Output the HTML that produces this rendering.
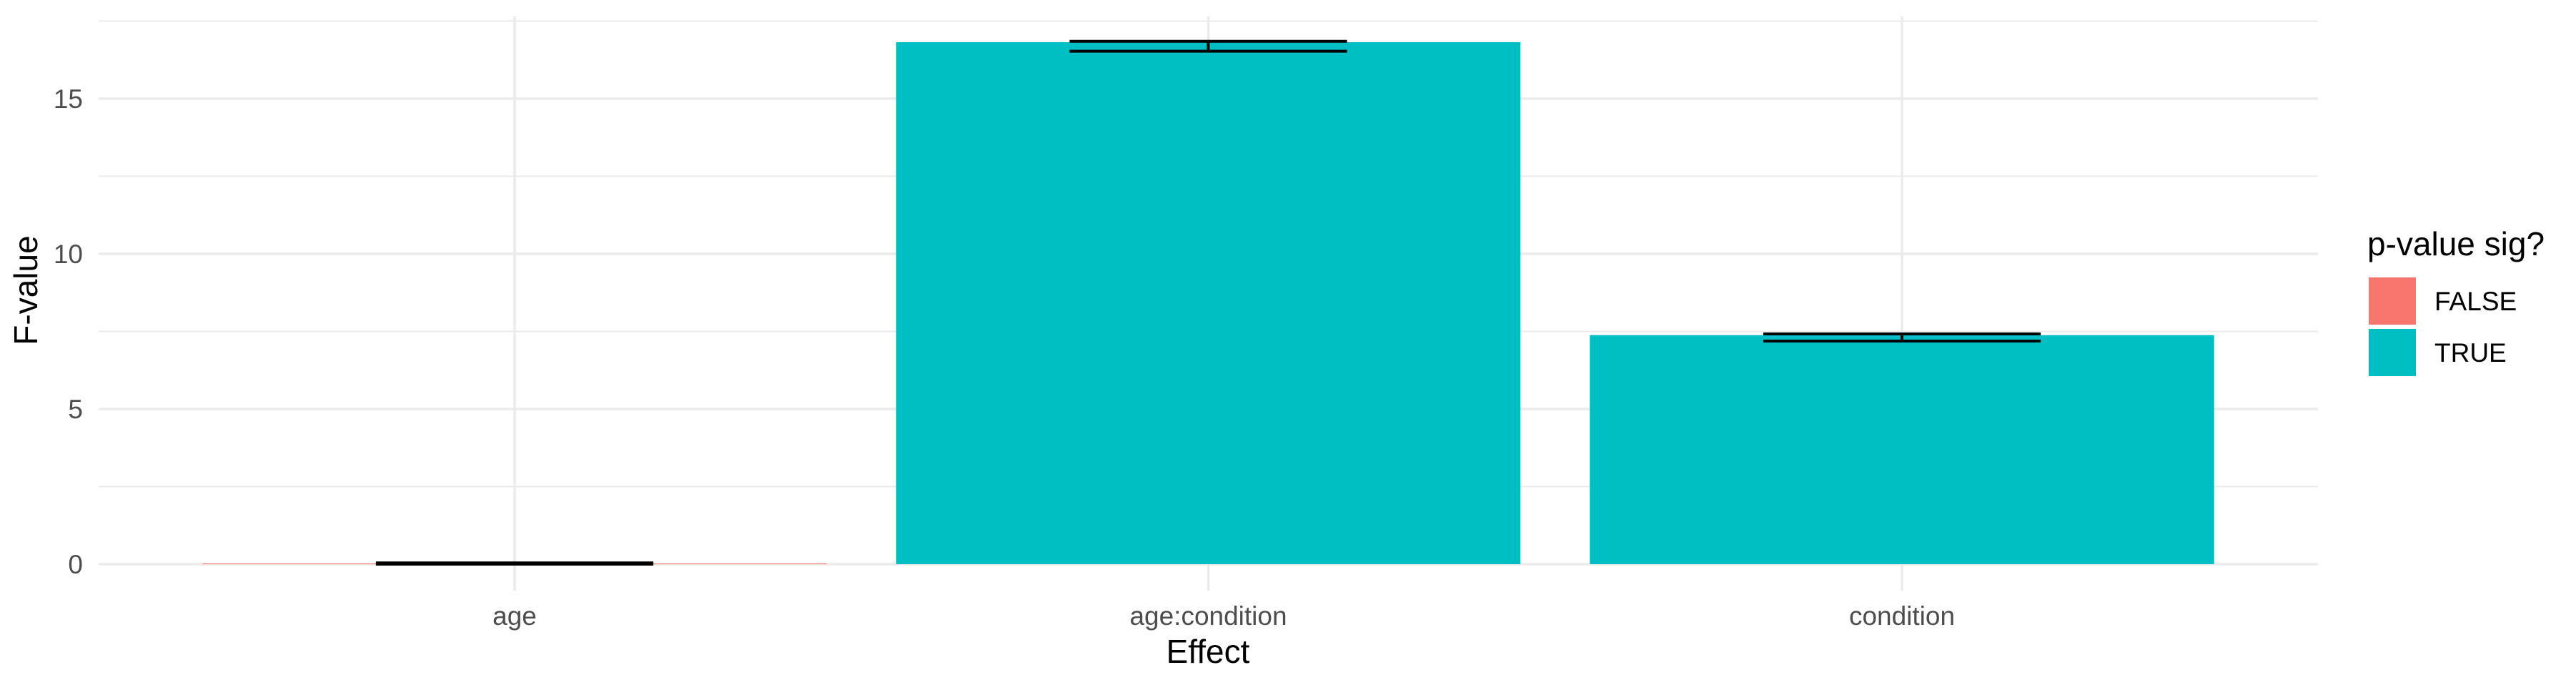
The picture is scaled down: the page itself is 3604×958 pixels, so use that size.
<!DOCTYPE html>
<html><head><meta charset="utf-8"><style>
html,body{margin:0;padding:0;background:#fff;}
svg{display:block;font-family:"Liberation Sans",sans-serif;}
</style></head><body>
<svg id="chart" width="3604" height="958" viewBox="0 0 3604 958">
<g id="grid"></g><g id="bars"></g><g id="errs"></g><g id="axes"></g>
<text x="40" y="406" transform="rotate(-90 40 406)" text-anchor="middle" dominant-baseline="middle" font-size="46" fill="#000">F-value</text>
<text x="1690" y="927" text-anchor="middle" font-size="46" fill="#000">Effect</text>
<g>
<text x="3312" y="357" font-size="46" fill="#000">p-value sig?</text>
<rect x="3314" y="388" width="66" height="66" fill="#F8766D"/>
<text x="3406" y="434" font-size="37" fill="#000">FALSE</text>
<rect x="3314" y="460" width="66" height="66" fill="#00BFC4"/>
<text x="3406" y="506" font-size="37" fill="#000">TRUE</text>
</g>
</svg>
<script>
const categories=["age","age:condition","condition"];
const fValues=[0.02,16.82,7.38];
const errLow=[0.0,16.53,7.19];
const errHigh=[0.04,16.85,7.42];
const significant=[false,true,true];
const yTicks=[0,5,10,15];
const yMinor=[2.5,7.5,12.5,17.5];
const NS="http://www.w3.org/2000/svg";
const L=138,R=3243,T=23,B=826;
const y0px=789,perUnit=43.4;
const step=970.5,x0=720;
function yS(v){return y0px-v*perUnit;}
function xS(i){return x0+i*step;}
function mk(tag,attrs,parent){const e=document.createElementNS(NS,tag);for(const k in attrs)e.setAttribute(k,attrs[k]);document.getElementById(parent).appendChild(e);return e;}
yMinor.forEach(v=>{const l=mk('line',{x1:L,x2:R,y1:yS(v),y2:yS(v),stroke:'#EBEBEB','stroke-width':2},'grid');

});
yTicks.forEach(v=>{const l=mk('line',{x1:L,x2:R,y1:yS(v),y2:yS(v),stroke:'#EBEBEB','stroke-width':3.5},'grid');


const t=mk('text',{x:116,y:yS(v)+13,'text-anchor':'end','font-size':37,fill:'#4D4D4D'},'axes');t.textContent=v;

});
categories.forEach((c,i)=>{const l=mk('line',{x1:xS(i),x2:xS(i),y1:T,y2:B,stroke:'#EBEBEB','stroke-width':3.5},'grid');


const t=mk('text',{x:xS(i),y:874,'text-anchor':'middle','font-size':37,fill:'#4D4D4D'},'axes');t.textContent=c;

});
const bw=step*0.9,ew=step*0.4;
categories.forEach((c,i)=>{const top=yS(fValues[i]);
const r=mk('rect',{x:xS(i)-bw/2,y:top,width:bw,height:Math.max(1,y0px-top),fill:significant[i]?'#00BFC4':'#F8766D'},'bars');


const g=mk('g',{stroke:'#000','stroke-width':4},'errs');


const yl=yS(errLow[i]),yh=yS(errHigh[i]);
[[xS(i)-ew/2,yh,xS(i)+ew/2,yh],[xS(i)-ew/2,yl,xS(i)+ew/2,yl],[xS(i),yh,xS(i),yl]].forEach(p=>{const e=document.createElementNS(NS,'line');e.setAttribute('x1',p[0]);e.setAttribute('y1',p[1]);e.setAttribute('x2',p[2]);e.setAttribute('y2',p[3]);g.appendChild(e);});});
</script>
</body></html>
